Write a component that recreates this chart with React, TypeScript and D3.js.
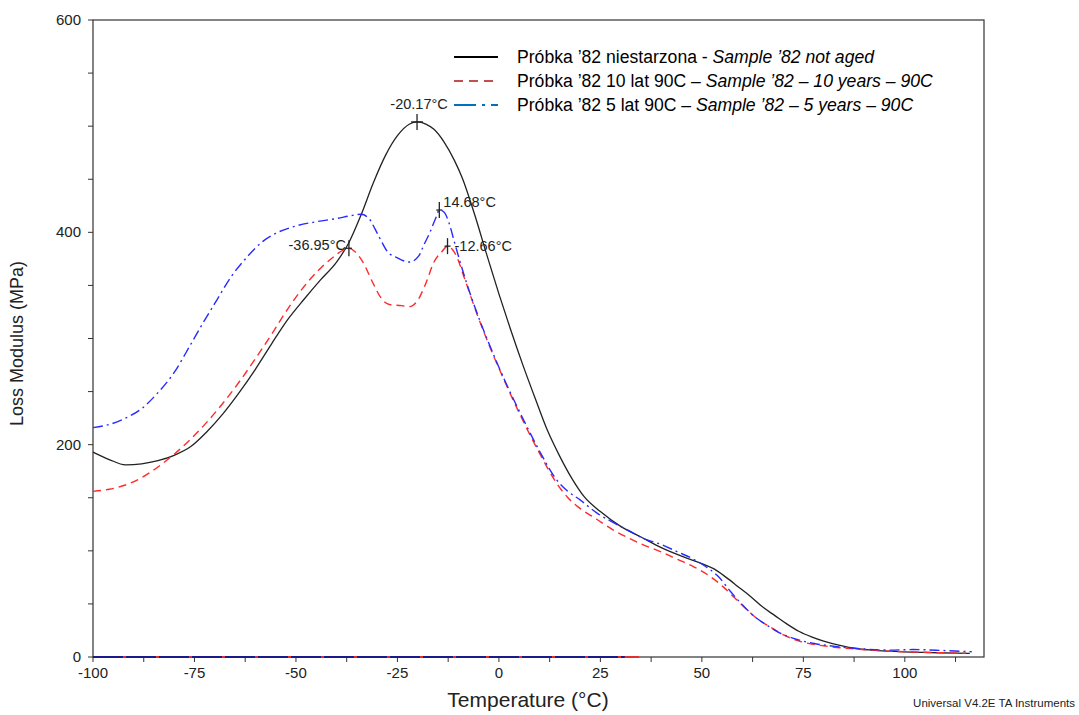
import React, { useEffect, useRef } from "react";
import * as d3 from "d3";

// Loss modulus (MPa) vs temperature (°C)
const notAged: [number, number][] = [
  [-100, 193], [-96, 186], [-92, 181], [-88, 182], [-84, 185], [-80, 190], [-76, 198],
  [-72, 212], [-68, 229], [-64, 249], [-60, 271], [-56, 295], [-52, 318], [-48, 337],
  [-44, 355], [-40, 372], [-37, 390], [-34, 416], [-31, 446], [-28, 472], [-25, 491],
  [-22, 502], [-20.17, 504], [-18, 502], [-16, 497], [-13.5, 485], [-11, 468], [-9, 451],
  [-6, 417], [-3, 379], [0, 342], [3, 307], [6, 274], [9, 243], [12, 213], [15, 189],
  [18, 168], [21, 151], [25, 137], [30, 123], [35, 113], [40, 103], [45, 95], [50, 88],
  [53, 83], [56, 75], [59, 66], [62, 57], [65, 47], [68, 39], [71, 31], [74, 24], [77, 19],
  [80, 15], [84, 11], [88, 8], [92, 6.5], [100, 4.8], [108, 4], [116, 3.5],
];

const aged10: [number, number][] = [
  [-100, 156], [-96, 158], [-92, 162], [-88, 169], [-84, 179], [-80, 191], [-76, 205],
  [-72, 221], [-68, 239], [-64, 259], [-60, 281], [-56, 304], [-52, 328], [-48, 349],
  [-44, 366], [-41, 376], [-38.5, 383], [-36.95, 385], [-35.5, 382], [-33.5, 372],
  [-31, 352], [-29, 338], [-27, 332], [-24, 331], [-22, 330], [-20, 336], [-18, 352],
  [-16, 372], [-14, 382], [-12.66, 387], [-11.5, 384], [-10.5, 378], [-8.6, 358],
  [-5.3, 322], [-2, 290], [1.5, 259], [6, 222], [10, 192], [14, 165], [17, 150],
  [20, 140], [24, 130], [28, 120], [32, 112], [36, 105], [40, 99], [44, 92], [48, 85],
  [52, 76], [55, 67], [58, 56], [61, 45], [64, 35], [67, 28], [70, 21], [74, 15],
  [80, 10.5], [88, 7.5], [96, 5.5], [104, 4.5], [115, 3.5],
];

const aged5: [number, number][] = [
  [-100, 216], [-96, 219], [-92, 225], [-88, 234], [-84, 249], [-80, 268], [-76, 294],
  [-73, 314], [-70, 333], [-66, 358], [-62, 377], [-58, 392], [-55, 399], [-50, 406],
  [-45, 410], [-40, 413], [-36, 416], [-34, 417], [-32, 413], [-30.5, 403], [-29, 392],
  [-27.5, 382], [-25, 376], [-22, 372], [-19.7, 378], [-18.5, 388], [-17, 400],
  [-15.5, 414], [-14.68, 421], [-13.5, 419], [-12.3, 409], [-10.9, 390], [-8.6, 360],
  [-5.3, 323], [-2, 291], [1.5, 260], [6, 224], [10, 194], [14, 168], [17, 156],
  [20, 148], [24, 136], [28, 127], [32, 119], [36, 111], [40, 106], [44, 99], [48, 92],
  [51, 85], [54, 76], [57, 62], [60, 49], [63, 38], [66, 30], [69, 23], [73, 17],
  [78, 12.5], [84, 9.5], [90, 7.5], [96, 6.5], [102, 7], [110, 6], [116.5, 5],
];

// zero traces along the x axis (temperature range)
const zeroTrace10 = [-100, 34.5];
const zeroTrace5 = [-100, 31];

const peakTemps = [-20.17, -14.68, -36.95, -12.66];
const peakValues = [504, 421, 385, 387];
const peakLabels = ["-20.17°C", "14.68°C", "-36.95°C", "-12.66°C"];

const legendPolish = ["Próbka ’82 niestarzona - ", "Próbka ’82 10 lat 90C – ", "Próbka ’82 5 lat 90C – "];
const legendEnglish = ["Sample ’82 not aged", "Sample ’82 – 10 years – 90C", "Sample ’82 – 5 years – 90C"];

const xTicks = d3.range(-100, 120, 12.5);
const yTicks = d3.range(0, 601, 50);

const W = 1079;
const H = 715;

const App = () => {
  const svgRef = useRef<SVGSVGElement>(null);

  useEffect(() => {
    const svg = d3.select(svgRef.current);
    svg.selectAll("*").remove();

    const font = "Liberation Sans, Arial, sans-serif";
    const x = d3.scaleLinear().domain([-100, 120]).range([93, 986]);
    const y = d3.scaleLinear().domain([0, 600]).range([657, 20]);

    svg.append("rect").attr("width", W).attr("height", H).attr("fill", "#fff");

    // plot frame
    svg.append("rect")
      .attr("x", x(-100)).attr("y", y(600))
      .attr("width", x(120) - x(-100) - 2).attr("height", y(0) - y(600))
      .attr("fill", "none").attr("stroke", "#333").attr("stroke-width", 1.2);

    // y axis ticks + labels
    const yAxis = svg.append("g").attr("font-family", font).attr("font-size", 15).attr("fill", "#222");
    yTicks.forEach((v) => {
      yAxis.append("line")
        .attr("x1", x(-100) - 5).attr("x2", x(-100))
        .attr("y1", y(v)).attr("y2", y(v))
        .attr("stroke", "#333").attr("stroke-width", 1);
      if (v % 200 === 0) {
        yAxis.append("text")
          .attr("x", x(-100) - 12).attr("y", y(v) + 5)
          .attr("text-anchor", "end").text(v);
      }
    });

    // x axis ticks + labels
    const xAxis = svg.append("g").attr("font-family", font).attr("font-size", 15).attr("fill", "#222");
    xTicks.forEach((t) => {
      xAxis.append("line")
        .attr("x1", x(t)).attr("x2", x(t))
        .attr("y1", y(0)).attr("y2", y(0) + 5)
        .attr("stroke", "#333").attr("stroke-width", 1);
      if (t % 25 === 0) {
        xAxis.append("text")
          .attr("x", x(t)).attr("y", y(0) + 21)
          .attr("text-anchor", "middle").text(t);
      }
    });

    // axis titles
    svg.append("text")
      .attr("transform", `translate(23,${(y(0) + y(600)) / 2 + 5}) rotate(-90)`)
      .attr("text-anchor", "middle")
      .attr("font-family", font).attr("font-size", 18).attr("fill", "#222")
      .text("Loss Modulus (MPa)");

    svg.append("text")
      .attr("x", 528).attr("y", 707)
      .attr("text-anchor", "middle")
      .attr("font-family", font).attr("font-size", 21).attr("fill", "#222")
      .text("Temperature (°C)");

    svg.append("text")
      .attr("x", 1075).attr("y", 707)
      .attr("text-anchor", "end")
      .attr("font-family", font).attr("font-size", 11.5).attr("fill", "#222")
      .text("Universal V4.2E TA Instruments");

    const line = d3.line<[number, number]>()
      .x((d) => x(d[0]))
      .y((d) => y(d[1]))
      .curve(d3.curveMonotoneX);

    // zero traces
    svg.append("line")
      .attr("x1", x(zeroTrace10[0])).attr("x2", x(zeroTrace10[1]))
      .attr("y1", y(0)).attr("y2", y(0))
      .attr("stroke", "#e03030").attr("stroke-width", 2);
    svg.append("line")
      .attr("x1", x(zeroTrace5[0])).attr("x2", x(zeroTrace5[1]))
      .attr("y1", y(0)).attr("y2", y(0))
      .attr("stroke", "#1a1a8a").attr("stroke-width", 2)
      .attr("stroke-dasharray", "30,3");

    svg.append("path").datum(notAged)
      .attr("d", line).attr("fill", "none")
      .attr("stroke", "#222").attr("stroke-width", 1.3);

    svg.append("path").datum(aged10)
      .attr("d", line).attr("fill", "none")
      .attr("stroke", "#ff2a2a").attr("stroke-width", 1.4)
      .attr("stroke-dasharray", "8,5");

    svg.append("path").datum(aged5)
      .attr("d", line).attr("fill", "none")
      .attr("stroke", "#2a2aff").attr("stroke-width", 1.4)
      .attr("stroke-dasharray", "10,4,2,4");

    // peak markers and labels
    const labelDx = [2, 4, -3, 7];
    const labelDy = [-13, -3, 2, 5];
    const anchors = ["middle", "start", "end", "start"];
    const ann = svg.append("g").attr("font-family", font).attr("font-size", 14.5).attr("fill", "#222");
    peakTemps.forEach((t, i) => {
      const mx = x(t);
      const my = y(peakValues[i]);
      ann.append("line")
        .attr("x1", mx).attr("x2", mx).attr("y1", my - 8).attr("y2", my + 8)
        .attr("stroke", "#222").attr("stroke-width", 1.3);
      const half = i === 0 ? 6 : 3;
      ann.append("line")
        .attr("x1", mx - half).attr("x2", mx + half).attr("y1", my).attr("y2", my)
        .attr("stroke", "#222").attr("stroke-width", 1.3);
      ann.append("text")
        .attr("x", mx + labelDx[i]).attr("y", my + labelDy[i])
        .attr("text-anchor", anchors[i])
        .text(peakLabels[i]);
    });

    // legend
    const legendColors = ["#000", "#c0504d", "#0070c0"];
    const legendDash = ["none", "9,6", "22,6,3,6"];
    const legend = svg.append("g").attr("font-family", font).attr("font-size", 17.6).attr("fill", "#000");
    legendPolish.forEach((pl, i) => {
      const ly = 57 + i * 24;
      legend.append("line")
        .attr("x1", 454).attr("x2", 498).attr("y1", ly).attr("y2", ly)
        .attr("stroke", legendColors[i]).attr("stroke-width", 2)
        .attr("stroke-dasharray", legendDash[i]);
      const tx = legend.append("text").attr("x", 517).attr("y", ly + 6);
      tx.append("tspan").text(pl);
      tx.append("tspan").attr("font-style", "italic").text(legendEnglish[i]);
    });
  }, []);

  return (
    <svg
      ref={svgRef}
      width={W}
      height={H}
      style={{ position: "absolute", left: 0, top: 0, display: "block" }}
    />
  );
};

export default App;
